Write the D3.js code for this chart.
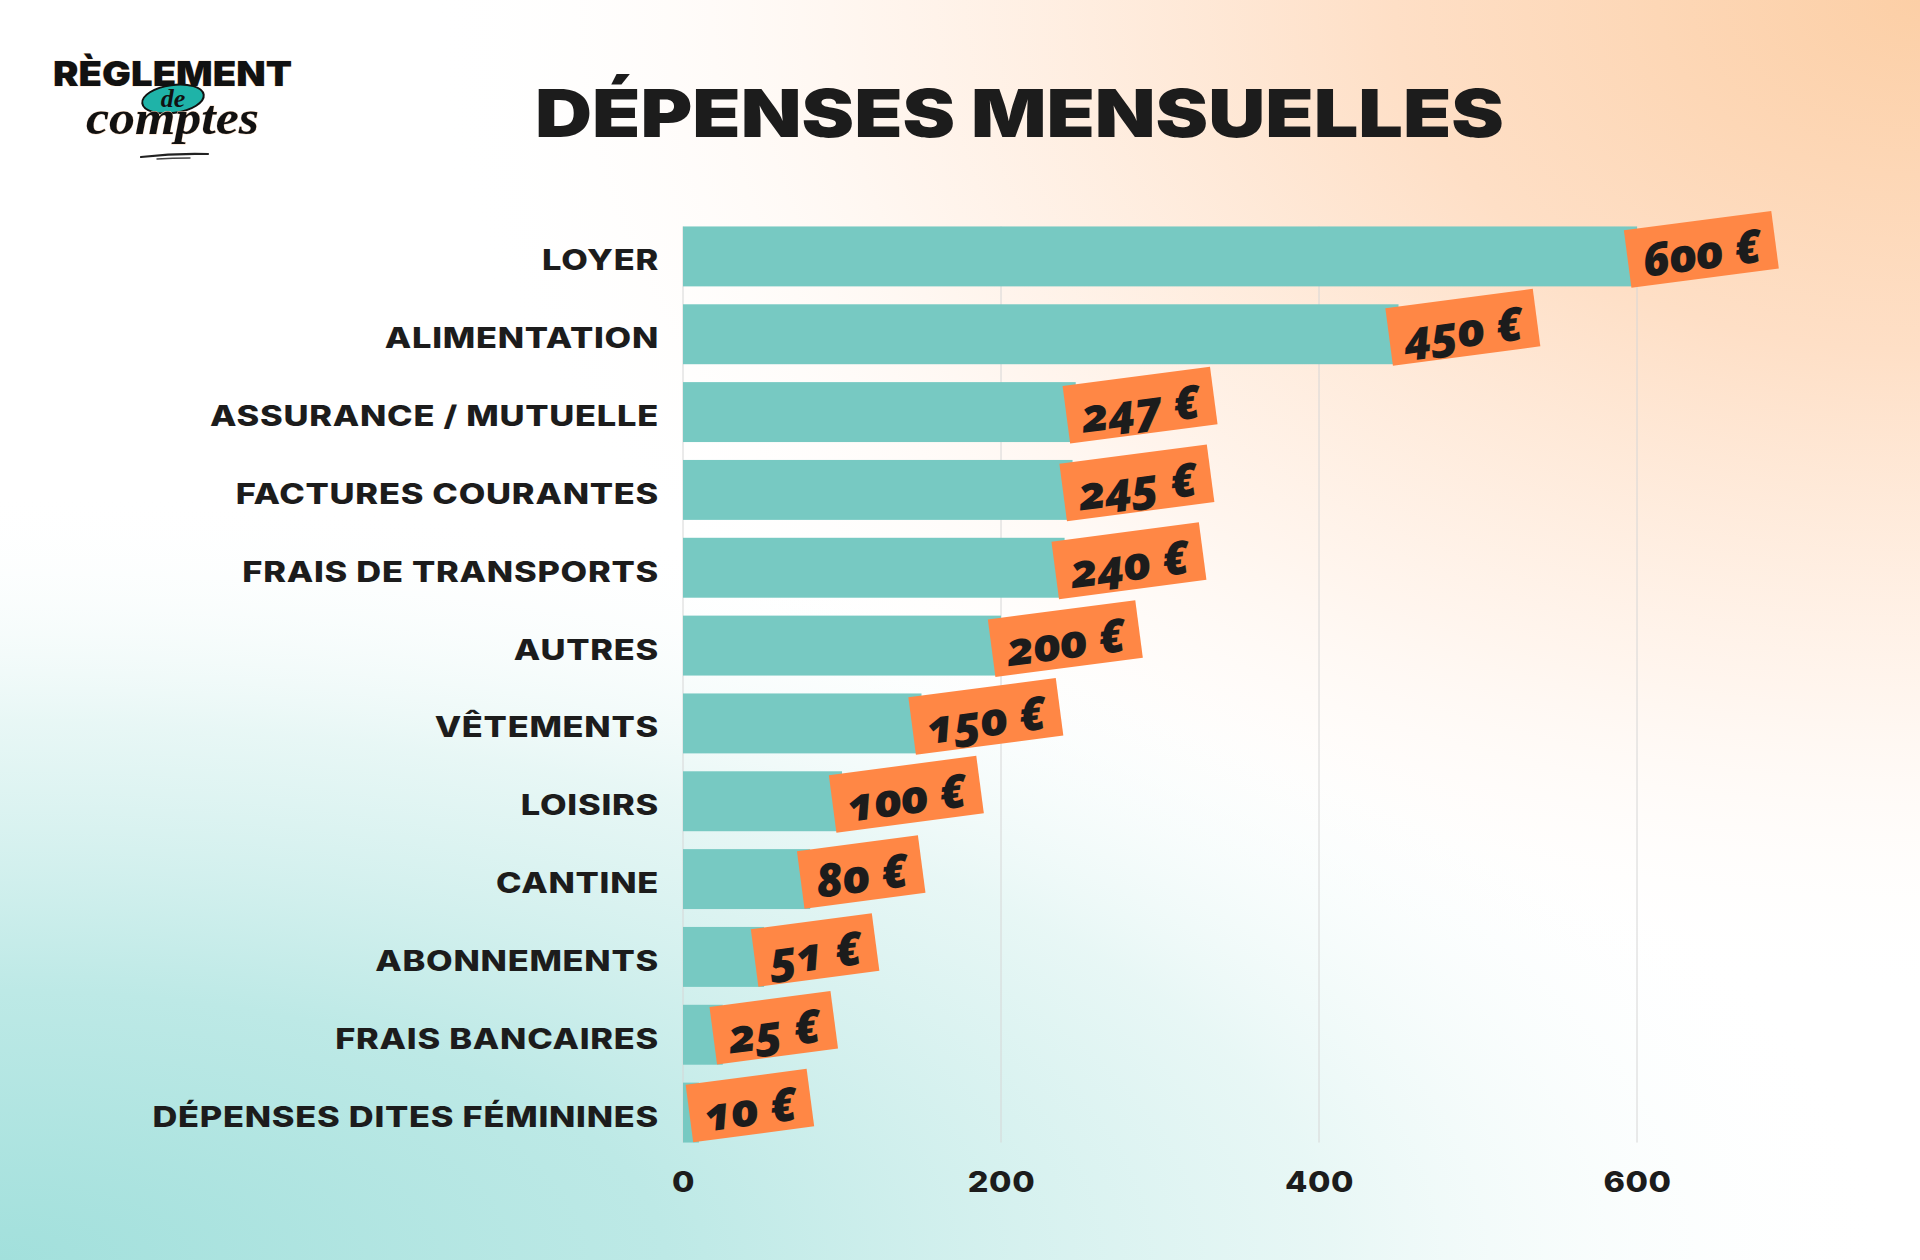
<!DOCTYPE html>
<html>
<head>
<meta charset="utf-8">
<script src="https://cdn.jsdelivr.net/npm/d3@7"></script>
<style>
  html, body { margin: 0; padding: 0; }
  body { width: 1920px; height: 1260px; overflow: hidden; }
  svg { display: block; }
</style>
</head>
<body>
<svg id="chart" width="1920" height="1260"></svg>
<script>
// ---- data ----
const categories = [
  "LOYER", "ALIMENTATION", "ASSURANCE / MUTUELLE", "FACTURES COURANTES",
  "FRAIS DE TRANSPORTS", "AUTRES", "VÊTEMENTS", "LOISIRS", "CANTINE",
  "ABONNEMENTS", "FRAIS BANCAIRES", "DÉPENSES DITES FÉMININES"
];
const values = [600, 450, 247, 245, 240, 200, 150, 100, 80, 51, 25, 10];
const xTicks = [0, 200, 400, 600];
const title = "DÉPENSES MENSUELLES";

// ---- setup ----
const svg = d3.select("#chart");
const W = 1920, H = 1260;

const defs = svg.append("defs");
// peach glow from top-right
const peach = defs.append("radialGradient").attr("id", "peach")
  .attr("gradientUnits", "userSpaceOnUse")
  .attr("cx", 0).attr("cy", 0).attr("r", 1)
  .attr("gradientTransform", "translate(1920,0) scale(1500,1000)");
[[0, "#FCCFA6", 1], [0.35, "#FEDFC6", 1], [0.7, "#FFF3EA", 0.8], [1, "#FFFFFF", 0]]
  .forEach(([o, c, a]) => peach.append("stop").attr("offset", o).attr("stop-color", c).attr("stop-opacity", a));
// teal glow from bottom-left
const teal = defs.append("radialGradient").attr("id", "teal")
  .attr("gradientUnits", "userSpaceOnUse")
  .attr("cx", 0).attr("cy", 0).attr("r", 1)
  .attr("gradientTransform", "translate(0,1260) scale(1900,770)");
[[0, "#A2E0DC", 1], [0.35, "#BDE9E6", 1], [0.7, "#E2F5F3", 0.8], [1, "#FFFFFF", 0]]
  .forEach(([o, c, a]) => teal.append("stop").attr("offset", o).attr("stop-color", c).attr("stop-opacity", a));

svg.append("rect").attr("width", W).attr("height", H).attr("fill", "#FFFFFF");
svg.append("rect").attr("width", W).attr("height", H).attr("fill", "url(#peach)");
svg.append("rect").attr("width", W).attr("height", H).attr("fill", "url(#teal)");

const x = d3.scaleLinear().domain([0, 600]).range([683, 1637]);
const y = d3.scaleBand().domain(categories).range([217.5, 1151.5])
  .paddingInner(0.23).paddingOuter(0.115);

const gridTop = y(categories[0]);
const gridBottom = y(categories[categories.length - 1]) + y.bandwidth();

// gridlines
svg.append("g").selectAll("line").data(xTicks).join("line")
  .attr("x1", d => x(d)).attr("x2", d => x(d))
  .attr("y1", gridTop).attr("y2", gridBottom)
  .attr("stroke", "#d6d6d6").attr("stroke-width", 1);

// bars
svg.append("g").selectAll("rect").data(values).join("rect")
  .attr("x", x(0))
  .attr("y", (d, i) => y(categories[i]))
  .attr("width", d => x(d) - x(0))
  .attr("height", y.bandwidth())
  .attr("fill", "#77C9C2");

// widen a text horizontally (geometric wide font look)
function widen(sel, k) {
  sel.each(function () {
    const len = this.getComputedTextLength();
    d3.select(this).attr("textLength", len * k).attr("lengthAdjust", "spacingAndGlyphs");
  });
}

// y axis labels
const yAxis = d3.axisLeft(y).tickSize(0).tickPadding(24);
const gy = svg.append("g").attr("transform", `translate(${x(0)},5)`).call(yAxis);
gy.select(".domain").remove();
gy.selectAll("text")
  .attr("font-family", "Inter, 'Noto Sans', sans-serif")
  .attr("font-weight", 800)
  .attr("font-size", 28)
  .attr("letter-spacing", "0.6px")
  .attr("fill", "#1c1c1c")
  .call(widen, 1.23);

// x axis labels
const xAxis = d3.axisBottom(x).tickValues(xTicks).tickSize(0).tickPadding(0).tickFormat(d3.format("d"));
const gx = svg.append("g").attr("transform", `translate(0,1171)`).call(xAxis);
gx.select(".domain").remove();
gx.selectAll("text")
  .attr("font-family", "Inter, 'Noto Sans', sans-serif")
  .attr("font-weight", 800)
  .attr("font-size", 29)
  .attr("letter-spacing", "0.5px")
  .attr("fill", "#1c1c1c")
  .call(widen, 1.12);

// value tags
const tags = svg.append("g").selectAll("g").data(values).join("g");
tags.each(function (d, i) {
  const g = d3.select(this);
  const t = g.append("text")
    .text(d + " €")
    .attr("font-family", "'Noto Sans', 'DejaVu Sans', sans-serif")
    .attr("font-style", "italic")
    .attr("font-weight", 900)
    .attr("font-size", 46)
    .attr("fill", "#1c1c1c")
    .attr("text-anchor", "middle")
    .attr("dominant-baseline", "central")
    .style("font-feature-settings", "'onum' 1");
  const len = t.node().getComputedTextLength();
  const w = len + 30, h = 58;
  const cx = x(d) - 10 + w / 2;
  const cy = y(categories[i]) + y.bandwidth() / 2 - 7;
  g.attr("transform", `translate(${cx},${cy}) rotate(-7.5)`);
  g.insert("rect", "text")
    .attr("x", -w / 2).attr("y", -h / 2)
    .attr("width", w).attr("height", h)
    .attr("fill", "#FF8745");
  t.attr("x", 0).attr("y", 2);
});

// title
svg.append("text")
  .attr("x", 535).attr("y", 137)
  .attr("textLength", 969).attr("lengthAdjust", "spacingAndGlyphs")
  .attr("font-family", "Inter, sans-serif")
  .attr("font-weight", 900)
  .attr("font-size", 66)
  .attr("fill", "#1c1c1c")
  .text(title);

// logo
const logo = svg.append("g");
logo.append("text")
  .attr("x", 53).attr("y", 86)
  .attr("textLength", 239).attr("lengthAdjust", "spacingAndGlyphs")
  .attr("font-family", "Inter, sans-serif").attr("font-weight", 900)
  .attr("font-size", 34).attr("fill", "#111")
  .attr("stroke", "#FBD9BE").attr("stroke-width", 0.6).attr("paint-order", "stroke")
  .text("RÈGLEMENT");
logo.append("ellipse")
  .attr("cx", 173).attr("cy", 99).attr("rx", 31).attr("ry", 14)
  .attr("transform", "rotate(-8,173,99)")
  .attr("fill", "#1FB3A8").attr("stroke", "#111").attr("stroke-width", 2);
logo.append("text")
  .attr("x", 173).attr("y", 107).attr("text-anchor", "middle")
  .attr("font-family", "'Liberation Serif', serif").attr("font-style", "italic")
  .attr("font-weight", 700).attr("font-size", 26).attr("fill", "#111")
  .text("de");
logo.append("text")
  .attr("x", 86).attr("y", 134)
  .attr("textLength", 173).attr("lengthAdjust", "spacingAndGlyphs")
  .attr("font-family", "'Liberation Serif', serif").attr("font-style", "italic")
  .attr("font-weight", 700).attr("font-size", 48).attr("fill", "#111")
  .attr("stroke", "#FBD9BE").attr("stroke-width", 0.8).attr("paint-order", "stroke")
  .text("comptes");
logo.append("path")
  .attr("d", "M141,157 Q175,153 208,154")
  .attr("fill", "none").attr("stroke", "#222").attr("stroke-width", 2.2).attr("stroke-linecap", "round");
logo.append("path")
  .attr("d", "M157,159 Q172,158 190,158")
  .attr("fill", "none").attr("stroke", "#444").attr("stroke-width", 1.4).attr("stroke-linecap", "round");
</script>
</body>
</html>
